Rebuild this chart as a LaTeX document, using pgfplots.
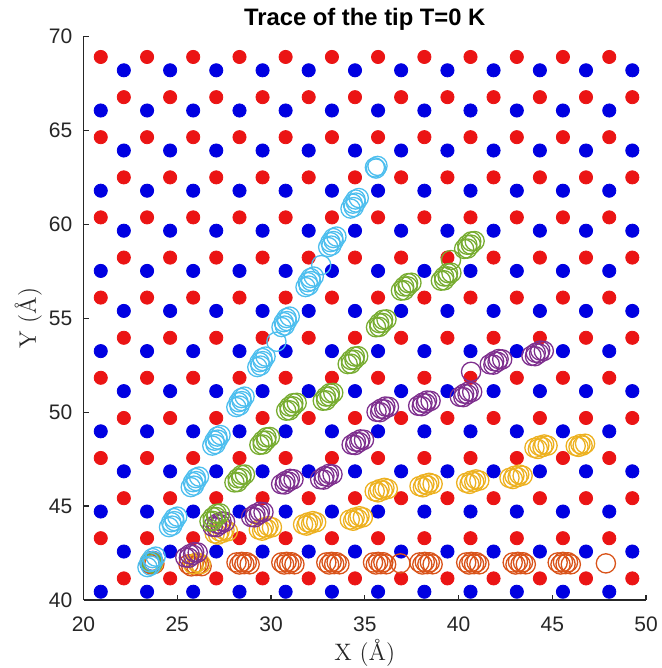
\documentclass[border=0pt]{standalone}
\usepackage{fontspec}
\setsansfont{Liberation Sans}
\usepackage{pgfplots}
\pgfplotsset{compat=1.18}
\definecolor{axgray}{RGB}{38,38,38}
\definecolor{dotred}{RGB}{235,20,20}
\definecolor{dotblue}{RGB}{0,0,225}
\definecolor{mblue}{RGB}{0,114,189}
\definecolor{morange}{RGB}{217,83,25}
\definecolor{myellow}{RGB}{237,177,32}
\definecolor{mpurple}{RGB}{126,47,142}
\definecolor{mgreen}{RGB}{119,172,48}
\definecolor{mcyan}{RGB}{77,190,238}
\begin{document}
\begin{tikzpicture}
\begin{axis}[
 scale only axis, width=281.25pt, height=281.75pt,
 xmin=20, xmax=50, ymin=40, ymax=70,
 axis x line*=bottom, axis y line*=left,
 axis line style={axgray, line width=0.6pt},
 tick align=inside, major tick length=2.6pt,
 tick style={axgray, line width=0.6pt},
 xtick={20,25,30,35,40,45,50}, ytick={40,45,50,55,60,65,70},
 /pgf/number format/assume math mode=true,
 ticklabel style={font=\sffamily\fontsize{10.5}{12}\selectfont, text=axgray},
 xticklabel style={anchor=base, yshift=-15.85pt},
 yticklabel style={anchor=east, inner sep=0pt, xshift=-5.4pt},
 clip=false,
 dots/.style={only marks, mark=*, mark size=3.3pt, mark options={draw=none}},
 rings/.style={only marks, mark=o, mark size=4.8pt, mark options={solid, line width=0.65pt}},
]
% red sublattice
\addplot[dots, fill=dotred, color=dotred] coordinates {
(22.15,41.15) (24.62,41.15) (27.08,41.15) (29.55,41.15) (32.01,41.15) (34.48,41.15) (36.94,41.15) (39.41,41.15) (41.87,41.15) (44.34,41.15) (46.80,41.15) (49.27,41.15)
(20.92,43.29) (23.39,43.29) (25.85,43.29) (28.32,43.29) (30.78,43.29) (33.25,43.29) (35.71,43.29) (38.18,43.29) (40.64,43.29) (43.11,43.29) (45.57,43.29) (48.04,43.29)
(22.15,45.42) (24.62,45.42) (27.08,45.42) (29.55,45.42) (32.01,45.42) (34.48,45.42) (36.94,45.42) (39.41,45.42) (41.87,45.42) (44.34,45.42) (46.80,45.42) (49.27,45.42)
(20.92,47.56) (23.39,47.56) (25.85,47.56) (28.32,47.56) (30.78,47.56) (33.25,47.56) (35.71,47.56) (38.18,47.56) (40.64,47.56) (43.11,47.56) (45.57,47.56) (48.04,47.56)
(22.15,49.69) (24.62,49.69) (27.08,49.69) (29.55,49.69) (32.01,49.69) (34.48,49.69) (36.94,49.69) (39.41,49.69) (41.87,49.69) (44.34,49.69) (46.80,49.69) (49.27,49.69)
(20.92,51.83) (23.39,51.83) (25.85,51.83) (28.32,51.83) (30.78,51.83) (33.25,51.83) (35.71,51.83) (38.18,51.83) (40.64,51.83) (43.11,51.83) (45.57,51.83) (48.04,51.83)
(22.15,53.96) (24.62,53.96) (27.08,53.96) (29.55,53.96) (32.01,53.96) (34.48,53.96) (36.94,53.96) (39.41,53.96) (41.87,53.96) (44.34,53.96) (46.80,53.96) (49.27,53.96)
(20.92,56.10) (23.39,56.10) (25.85,56.10) (28.32,56.10) (30.78,56.10) (33.25,56.10) (35.71,56.10) (38.18,56.10) (40.64,56.10) (43.11,56.10) (45.57,56.10) (48.04,56.10)
(22.15,58.23) (24.62,58.23) (27.08,58.23) (29.55,58.23) (32.01,58.23) (34.48,58.23) (36.94,58.23) (39.41,58.23) (41.87,58.23) (44.34,58.23) (46.80,58.23) (49.27,58.23)
(20.92,60.37) (23.39,60.37) (25.85,60.37) (28.32,60.37) (30.78,60.37) (33.25,60.37) (35.71,60.37) (38.18,60.37) (40.64,60.37) (43.11,60.37) (45.57,60.37) (48.04,60.37)
(22.15,62.50) (24.62,62.50) (27.08,62.50) (29.55,62.50) (32.01,62.50) (34.48,62.50) (36.94,62.50) (39.41,62.50) (41.87,62.50) (44.34,62.50) (46.80,62.50) (49.27,62.50)
(20.92,64.64) (23.39,64.64) (25.85,64.64) (28.32,64.64) (30.78,64.64) (33.25,64.64) (35.71,64.64) (38.18,64.64) (40.64,64.64) (43.11,64.64) (45.57,64.64) (48.04,64.64)
(22.15,66.77) (24.62,66.77) (27.08,66.77) (29.55,66.77) (32.01,66.77) (34.48,66.77) (36.94,66.77) (39.41,66.77) (41.87,66.77) (44.34,66.77) (46.80,66.77) (49.27,66.77)
(20.92,68.91) (23.39,68.91) (25.85,68.91) (28.32,68.91) (30.78,68.91) (33.25,68.91) (35.71,68.91) (38.18,68.91) (40.64,68.91) (43.11,68.91) (45.57,68.91) (48.04,68.91)
};
% blue sublattice
\addplot[dots, fill=dotblue, color=dotblue] coordinates {
(20.92,40.44) (23.39,40.44) (25.85,40.44) (28.32,40.44) (30.78,40.44) (33.25,40.44) (35.71,40.44) (38.18,40.44) (40.64,40.44) (43.11,40.44) (45.57,40.44) (48.04,40.44)
(22.15,42.58) (24.62,42.58) (27.08,42.58) (29.55,42.58) (32.01,42.58) (34.48,42.58) (36.94,42.58) (39.41,42.58) (41.87,42.58) (44.34,42.58) (46.80,42.58) (49.27,42.58)
(20.92,44.71) (23.39,44.71) (25.85,44.71) (28.32,44.71) (30.78,44.71) (33.25,44.71) (35.71,44.71) (38.18,44.71) (40.64,44.71) (43.11,44.71) (45.57,44.71) (48.04,44.71)
(22.15,46.85) (24.62,46.85) (27.08,46.85) (29.55,46.85) (32.01,46.85) (34.48,46.85) (36.94,46.85) (39.41,46.85) (41.87,46.85) (44.34,46.85) (46.80,46.85) (49.27,46.85)
(20.92,48.98) (23.39,48.98) (25.85,48.98) (28.32,48.98) (30.78,48.98) (33.25,48.98) (35.71,48.98) (38.18,48.98) (40.64,48.98) (43.11,48.98) (45.57,48.98) (48.04,48.98)
(22.15,51.12) (24.62,51.12) (27.08,51.12) (29.55,51.12) (32.01,51.12) (34.48,51.12) (36.94,51.12) (39.41,51.12) (41.87,51.12) (44.34,51.12) (46.80,51.12) (49.27,51.12)
(20.92,53.25) (23.39,53.25) (25.85,53.25) (28.32,53.25) (30.78,53.25) (33.25,53.25) (35.71,53.25) (38.18,53.25) (40.64,53.25) (43.11,53.25) (45.57,53.25) (48.04,53.25)
(22.15,55.39) (24.62,55.39) (27.08,55.39) (29.55,55.39) (32.01,55.39) (34.48,55.39) (36.94,55.39) (39.41,55.39) (41.87,55.39) (44.34,55.39) (46.80,55.39) (49.27,55.39)
(20.92,57.52) (23.39,57.52) (25.85,57.52) (28.32,57.52) (30.78,57.52) (33.25,57.52) (35.71,57.52) (38.18,57.52) (40.64,57.52) (43.11,57.52) (45.57,57.52) (48.04,57.52)
(22.15,59.66) (24.62,59.66) (27.08,59.66) (29.55,59.66) (32.01,59.66) (34.48,59.66) (36.94,59.66) (39.41,59.66) (41.87,59.66) (44.34,59.66) (46.80,59.66) (49.27,59.66)
(20.92,61.79) (23.39,61.79) (25.85,61.79) (28.32,61.79) (30.78,61.79) (33.25,61.79) (35.71,61.79) (38.18,61.79) (40.64,61.79) (43.11,61.79) (45.57,61.79) (48.04,61.79)
(22.15,63.93) (24.62,63.93) (27.08,63.93) (29.55,63.93) (32.01,63.93) (34.48,63.93) (36.94,63.93) (39.41,63.93) (41.87,63.93) (44.34,63.93) (46.80,63.93) (49.27,63.93)
(20.92,66.06) (23.39,66.06) (25.85,66.06) (28.32,66.06) (30.78,66.06) (33.25,66.06) (35.71,66.06) (38.18,66.06) (40.64,66.06) (43.11,66.06) (45.57,66.06) (48.04,66.06)
(22.15,68.20) (24.62,68.20) (27.08,68.20) (29.55,68.20) (32.01,68.20) (34.48,68.20) (36.94,68.20) (39.41,68.20) (41.87,68.20) (44.34,68.20) (46.80,68.20) (49.27,68.20)
};
% trace 1 (blue): stays at start
\addplot[rings, color=mblue] coordinates {(23.60,42.00) (23.66,42.06) (23.52,41.96)};
% trace 2 (orange)
\addplot[rings, color=morange] coordinates {
(23.55,41.95) (23.70,42.05) (23.62,41.90) (23.78,41.92)
(25.60,41.90) (25.75,41.79) (25.88,41.93) (26.02,41.81) (26.15,41.91) (26.30,41.80)
(28.16,42.00) (28.31,41.89) (28.44,42.03) (28.58,41.91) (28.71,42.01) (28.86,41.90)
(30.55,42.00) (30.70,41.89) (30.83,42.03) (30.97,41.91) (31.10,42.01) (31.25,41.90)
(32.95,42.00) (33.10,41.89) (33.23,42.03) (33.37,41.91) (33.50,42.01) (33.65,41.90)
(35.44,42.00) (35.59,41.89) (35.72,42.03) (35.86,41.91) (35.99,42.01) (36.14,41.90)
(36.90,41.95)
(37.92,42.00) (38.07,41.89) (38.20,42.03) (38.34,41.91) (38.47,42.01) (38.62,41.90)
(40.41,42.00) (40.56,41.89) (40.69,42.03) (40.83,41.91) (40.96,42.01) (41.11,41.90)
(42.89,42.00) (43.04,41.89) (43.17,42.03) (43.31,41.91) (43.44,42.01) (43.59,41.90)
(45.29,42.00) (45.44,41.89) (45.57,42.03) (45.71,41.91) (45.84,42.01) (45.99,41.90)
(47.86,41.95)
};
% trace 3 (yellow)
\addplot[rings, color=myellow] coordinates {
(23.55,42.05) (23.72,41.95)
(25.85,41.90) (26.05,42.00) (26.25,41.92)
(27.00,43.54) (27.18,43.48) (27.26,43.65) (27.43,43.58) (27.52,43.72) (27.70,43.66)
(29.35,43.75) (29.53,43.69) (29.61,43.86) (29.78,43.79) (29.87,43.93) (30.05,43.87)
(31.71,44.02) (31.89,43.96) (31.97,44.13) (32.14,44.06) (32.23,44.20) (32.41,44.14)
(34.20,44.28) (34.38,44.22) (34.46,44.39) (34.63,44.32) (34.72,44.46) (34.90,44.40)
(35.53,45.79) (35.71,45.73) (35.79,45.90) (35.96,45.83) (36.05,45.97) (36.23,45.91)
(37.92,46.06) (38.10,46.00) (38.18,46.17) (38.35,46.10) (38.44,46.24) (38.62,46.18)
(40.41,46.24) (40.59,46.18) (40.67,46.35) (40.84,46.28) (40.93,46.42) (41.11,46.36)
(42.72,46.50) (42.90,46.44) (42.98,46.61) (43.15,46.54) (43.24,46.68) (43.42,46.62)
(44.05,48.10) (44.23,48.04) (44.31,48.21) (44.48,48.14) (44.57,48.28) (44.75,48.22)
(46.25,48.20) (46.40,48.15) (46.50,48.30) (46.62,48.22) (46.75,48.32)
};
% trace 4 (purple)
\addplot[rings, color=mpurple] coordinates {
(23.60,42.00) (23.70,42.08)
(25.43,42.27) (25.62,42.25) (25.66,42.43) (25.84,42.40) (25.90,42.55) (26.09,42.53)
(26.89,43.90) (27.08,43.88) (27.12,44.06) (27.30,44.03) (27.36,44.18) (27.55,44.16)
(28.94,44.42) (29.13,44.40) (29.17,44.58) (29.35,44.55) (29.41,44.70) (29.60,44.68)
(30.54,46.17) (30.73,46.15) (30.77,46.33) (30.95,46.30) (31.01,46.45) (31.20,46.43)
(32.62,46.43) (32.81,46.41) (32.85,46.59) (33.03,46.56) (33.09,46.71) (33.28,46.69)
(34.30,48.27) (34.49,48.25) (34.53,48.43) (34.71,48.40) (34.77,48.55) (34.96,48.53)
(35.63,50.02) (35.82,50.00) (35.86,50.18) (36.04,50.15) (36.10,50.30) (36.29,50.28)
(37.85,50.34) (38.04,50.32) (38.08,50.50) (38.26,50.47) (38.32,50.62) (38.51,50.60)
(40.07,50.82) (40.26,50.80) (40.30,50.98) (40.48,50.95) (40.54,51.10) (40.73,51.08)
(40.67,52.15)
(41.67,52.55) (41.86,52.53) (41.90,52.71) (42.08,52.68) (42.14,52.83) (42.33,52.81)
(43.89,53.00) (44.08,52.98) (44.12,53.16) (44.30,53.13) (44.36,53.28) (44.55,53.26)
};
% trace 5 (green)
\addplot[rings, color=mgreen] coordinates {
(23.60,42.02) (23.68,41.95)
(26.72,44.19) (26.90,44.21) (26.89,44.41) (27.08,44.42) (27.10,44.59) (27.28,44.61)
(28.05,46.26) (28.23,46.28) (28.22,46.48) (28.41,46.49) (28.43,46.66) (28.61,46.68)
(29.38,48.26) (29.56,48.28) (29.55,48.48) (29.74,48.49) (29.76,48.66) (29.94,48.68)
(30.81,50.08) (30.99,50.10) (30.98,50.30) (31.17,50.31) (31.19,50.48) (31.37,50.50)
(32.76,50.61) (32.94,50.63) (32.93,50.83) (33.12,50.84) (33.14,51.01) (33.32,51.03)
(34.09,52.56) (34.27,52.58) (34.26,52.78) (34.45,52.79) (34.47,52.96) (34.65,52.98)
(35.60,54.52) (35.78,54.54) (35.77,54.74) (35.96,54.75) (35.98,54.92) (36.16,54.94)
(36.93,56.47) (37.11,56.49) (37.10,56.69) (37.29,56.70) (37.31,56.87) (37.49,56.89)
(39.06,57.00) (39.24,57.02) (39.23,57.22) (39.42,57.23) (39.44,57.40) (39.62,57.42)
(39.60,58.10)
(40.30,58.69) (40.48,58.71) (40.47,58.91) (40.66,58.92) (40.68,59.09) (40.86,59.11)
};
% trace 6 (cyan)
\addplot[rings, color=mcyan] coordinates {
(23.41,41.75) (23.58,41.83) (23.53,42.01) (23.70,42.07) (23.68,42.23) (23.85,42.31)
(24.56,43.88) (24.73,43.96) (24.68,44.14) (24.85,44.20) (24.83,44.36) (25.00,44.44)
(25.72,46.01) (25.89,46.09) (25.84,46.27) (26.01,46.33) (25.99,46.49) (26.16,46.57)
(26.87,48.22) (27.04,48.30) (26.99,48.48) (27.16,48.54) (27.14,48.70) (27.31,48.78)
(28.15,50.27) (28.32,50.35) (28.27,50.53) (28.44,50.59) (28.42,50.75) (28.59,50.83)
(29.27,52.40) (29.44,52.48) (29.39,52.66) (29.56,52.72) (29.54,52.88) (29.71,52.96)
(30.29,53.75)
(30.56,54.53) (30.73,54.61) (30.68,54.79) (30.85,54.85) (30.83,55.01) (31.00,55.09)
(31.84,56.66) (32.01,56.74) (31.96,56.92) (32.13,56.98) (32.11,57.14) (32.28,57.22)
(32.68,57.83)
(33.05,58.79) (33.22,58.87) (33.17,59.05) (33.34,59.11) (33.32,59.27) (33.49,59.35)
(34.24,60.84) (34.41,60.92) (34.36,61.10) (34.53,61.16) (34.51,61.32) (34.68,61.40)
(35.54,63.03) (35.68,63.11) (35.60,62.97)
};
\coordinate (ll) at (rel axis cs:0,0);
\coordinate (ur) at (rel axis cs:1,1);
\coordinate (tc) at (rel axis cs:0.5,1);
\coordinate (bc) at (rel axis cs:0.5,0);
\coordinate (lc) at (rel axis cs:0,0.5);
\end{axis}
\node[anchor=base, font=\sffamily\bfseries\fontsize{11.9}{14}\selectfont, text=black, inner sep=0pt] at ([yshift=5.25pt]tc) {Trace of the tip T=0 K};
\node[anchor=base, font=\fontsize{11.9}{14}\selectfont, text=axgray, inner sep=0pt] at ([yshift=-30pt]bc) {X (Å)};
\node[anchor=base, rotate=90, font=\fontsize{11.9}{14}\selectfont, text=axgray, inner sep=0pt] at ([xshift=-23.75pt]lc) {Y (Å)};
\pgfresetboundingbox
\path ([shift={(-41.75pt,-34pt)}]ll) rectangle ([shift={(8pt,18.25pt)}]ur);
\end{tikzpicture}
\end{document}
